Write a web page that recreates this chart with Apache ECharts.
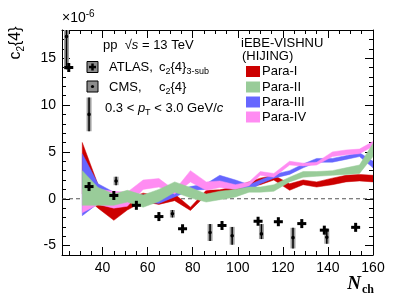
<!DOCTYPE html>
<html><head><meta charset="utf-8">
<script src="https://cdn.jsdelivr.net/npm/echarts@6/dist/echarts.min.js"></script>
<style>html,body{margin:0;padding:0;background:#fff}#c{width:415px;height:300px}</style>
</head><body><div id="c"></div>
<script>
// ---- axis ticks ----
const xMajor = [40, 60, 80, 100, 120, 140, 160];
const xMinor = [25, 30, 35, 45, 50, 55, 65, 70, 75, 85, 90, 95, 105, 110, 115, 125, 130, 135, 145, 150, 155];
const yMajor = [-5, 0, 5, 10, 15];
const yMinor = [-4, -3, -2, -1, 1, 2, 3, 4, 6, 7, 8, 9, 11, 12, 13, 14, 16, 17];

// ---- model bands (iEBE-VISHNU) ----
const modelN = [31, 38, 45, 51, 58, 65, 72, 79, 86, 92, 99, 105, 110, 116, 123, 129, 135, 142, 148, 154, 160];
const para1Lo = [0.5, -1.0, -2.3, -1.2, -0.3, -0.6, -0.2, -1.25, 0.4, 0.5, 0.7, 1.25, 1.5, 2.0, 0.9, 1.5, 1.25, 1.5, 1.8, 1.9, 1.8];
const para1Hi = [6.0, 1.5, -0.5, 0.0, 0.6, 0.3, 0.5, -0.9, 0.9, 0.95, 1.3, 1.8, 2.2, 2.5, 1.6, 2.0, 1.8, 2.2, 2.5, 2.6, 2.5];
const para2Lo = [-0.7, -0.7, -0.7, -0.35, -0.9, -0.3, 0.7, 0.1, -0.35, -0.1, 0.2, 0.7, 0.7, 0.8, 1.8, 2.3, 2.4, 2.5, 2.6, 2.7, 4.5];
const para2Hi = [3.0, 1.2, 0.5, 0.9, 0.4, 1.0, 1.8, 1.2, 0.5, 0.8, 1.0, 1.25, 1.25, 1.5, 2.3, 2.9, 2.9, 3.0, 3.3, 3.6, 5.9];
const para3Lo = [-1.8, -0.5, 0.0, -0.3, -0.3, -0.5, 0.2, 0.9, 1.0, 1.8, 1.3, 0.8, 1.6, 2.2, 2.6, 3.3, 3.9, 3.9, 4.2, 4.5, 3.3];
const para3Hi = [4.8, 1.6, 0.7, 0.5, 0.4, 0.4, 0.8, 1.3, 1.6, 2.5, 2.0, 1.5, 2.0, 2.6, 3.0, 3.7, 4.3, 4.3, 4.6, 4.9, 4.0];
const para4Lo = [-1.5, -0.6, -1.0, -0.8, 1.0, 1.25, 0.5, 1.8, 0.9, 1.2, 1.0, 1.4, 2.5, 2.3, 3.6, 3.5, 3.6, 4.5, 4.7, 4.8, 5.6];
const para4Hi = [1.0, 1.0, 0.8, 0.7, 2.0, 2.15, 0.9, 3.0, 1.8, 1.9, 1.5, 1.8, 2.9, 2.7, 4.0, 3.8, 3.9, 5.0, 5.2, 5.3, 6.1];

// ---- ATLAS c2{4} 3-sub ----
const atlasN = [25, 34, 45, 55, 65, 75.5, 93, 109, 118, 128.4, 138.4, 152.3];
const atlasY = [14.0, 1.3, 0.35, -0.7, -1.9, -3.2, -2.85, -2.4, -2.45, -2.65, -3.35, -3.05];

// ---- CMS c2{4} ----
const cmsN = [24, 34, 46, 71, 87.7, 97.5, 110.5, 124.5, 139.5];
const cmsY = [17.3, 9.0, 1.9, -1.6, -3.6, -3.95, -3.75, -4.15, -4.1];
const cmsLo = [13.8, 7.2, 1.45, -2.0, -4.5, -4.9, -4.3, -5.3, -4.8];
const cmsHi = [18.0, 10.8, 2.35, -1.2, -2.7, -3.0, -2.7, -3.1, -3.2];

const zeroLine = [[22, 0], [160, 0]];

const colors = {p1: '#cc0000', p2: '#99cc99', p3: '#6666ff', p4: '#ff8cf2'};
const F = '"Liberation Sans", Arial, Helvetica, sans-serif';

const chart = echarts.init(document.getElementById('c'), null, {renderer: 'canvas'});

function band(name, lo, hi, color, z) {
  return {
    type: 'custom', name, z, clip: true,
    xAxisIndex: 0, yAxisIndex: 0,
    data: [[modelN[0], lo[0]]],
    renderItem: function (params, api) {
      const pts = [];
      for (let i = 0; i < modelN.length; i++) pts.push(api.coord([modelN[i], hi[i]]));
      for (let i = modelN.length - 1; i >= 0; i--) pts.push(api.coord([modelN[i], lo[i]]));
      return {type: 'polygon', shape: {points: pts}, style: {fill: color, stroke: color, lineWidth: 0.5}};
    },
    silent: true
  };
}

function xAx(pos, vals, len, showLine, showLabel) {
  return {
    type: 'value', min: 22, max: 160, position: pos,
    axisLine: {show: showLine, onZero: false, lineStyle: {color: '#000', width: 1}},
    axisTick: {show: true, inside: true, length: len, customValues: vals, lineStyle: {color: '#000', width: 1}},
    axisLabel: showLabel ? {show: true, customValues: vals, color: '#000', fontSize: 14, fontFamily: F, margin: 6} : {show: false},
    splitLine: {show: false}
  };
}
function yAx(pos, vals, len, showLine, showLabel) {
  return {
    type: 'value', min: -6, max: 18, position: pos,
    axisLine: {show: showLine, onZero: false, lineStyle: {color: '#000', width: 1}},
    axisTick: {show: true, inside: true, length: len, customValues: vals, lineStyle: {color: '#000', width: 1}},
    axisLabel: showLabel ? {show: true, customValues: vals, color: '#000', fontSize: 14, fontFamily: F, margin: 6} : {show: false},
    splitLine: {show: false}
  };
}

function t(x, y, text, opts) {
  return {type: 'text', x, y, z: 100, style: Object.assign({
    text, fontFamily: F, fontSize: 13, fill: '#000', verticalAlign: 'middle', align: 'left',
    rich: {
      i: {fontFamily: F, fontSize: 13, fontStyle: 'italic'},
      sub: {fontFamily: F, fontSize: 9, verticalAlign: 'bottom', padding: [9, 0, 0, 0]},
      sup: {fontFamily: F, fontSize: 10, verticalAlign: 'top', padding: [0, 0, 8, 0]}
    }
  }, opts || {})};
}

const graphics = [
  // y-axis title
  {type: 'text', x: 16, y: 43, rotation: Math.PI / 2, z: 100, style: {
    text: 'c{s|2}{4}', fontFamily: F, fontSize: 16, fill: '#000', align: 'center', verticalAlign: 'middle',
    rich: {s: {fontFamily: F, fontSize: 10, verticalAlign: 'bottom', padding: [10, 0, 0, 0]}}
  }},
  // x10^-6
  t(62, 18, '×10{sup|-6}', {fontSize: 14}),
  // x-axis title
  {type: 'text', x: 374, y: 284, z: 100, style: {
    text: 'N{s|ch}', fontFamily: '"Liberation Serif", "Times New Roman", serif', fontSize: 19, fontWeight: 'bold', fontStyle: 'italic',
    fill: '#000', align: 'right', verticalAlign: 'middle',
    rich: {s: {fontFamily: '"Liberation Serif", serif', fontSize: 12, fontWeight: 'bold', fontStyle: 'normal', verticalAlign: 'bottom', padding: [12, 0, 0, 1]}}
  }},
  // left legend
  t(103, 45, 'pp  √{i|s} = 13 TeV'),
  {type: 'rect', z: 100, shape: {x: 87, y: 61.5, width: 11, height: 11}, style: {fill: '#8c8c8c', stroke: '#000', lineWidth: 1}},
  {type: 'rect', z: 101, shape: {x: 89, y: 65.8, width: 7, height: 2.5}, style: {fill: '#000'}},
  {type: 'rect', z: 101, shape: {x: 91.25, y: 63.5, width: 2.5, height: 7}, style: {fill: '#000'}},
  t(109, 67, 'ATLAS,'),
  t(159, 67, 'c{sub|2}{4}{sub|3-sub}'),
  {type: 'rect', z: 100, shape: {x: 87, y: 81, width: 11, height: 11}, style: {fill: '#8c8c8c', stroke: '#000', lineWidth: 1}},
  {type: 'circle', z: 101, shape: {cx: 92.5, cy: 86.5, r: 1.6}, style: {fill: '#000'}},
  t(109, 87, 'CMS,'),
  t(159, 87, 'c{sub|2}{4}'),
  t(105, 108, '0.3 < {i|p}{sub|T} < 3.0 GeV/{i|c}'),
  // right legend
  t(241, 43, 'iEBE-VISHNU', {fontSize: 13}),
  t(242, 56, '(HIJING)', {fontSize: 13}),
  {type: 'rect', z: 100, shape: {x: 246, y: 66, width: 14, height: 11}, style: {fill: colors.p1}},
  {type: 'rect', z: 100, shape: {x: 246, y: 81.5, width: 14, height: 11}, style: {fill: colors.p2}},
  {type: 'rect', z: 100, shape: {x: 246, y: 96.5, width: 14, height: 11}, style: {fill: colors.p3}},
  {type: 'rect', z: 100, shape: {x: 246, y: 111.5, width: 14, height: 11}, style: {fill: colors.p4}},
  t(262, 71.5, 'Para-I'),
  t(262, 87, 'Para-II'),
  t(262, 102, 'Para-III'),
  t(262, 117, 'Para-IV')
];

const option = {
  animation: false,
  backgroundColor: '#fff',
  grid: {left: 62, right: 42, top: 30, bottom: 45, containLabel: false},
  xAxis: [
    xAx('bottom', xMajor, 8, true, true),
    xAx('bottom', xMinor, 4, false, false),
    xAx('top', xMajor, 8, true, false),
    xAx('top', xMinor, 4, false, false)
  ],
  yAxis: [
    yAx('left', yMajor, 8, true, true),
    yAx('left', yMinor, 4, false, false),
    yAx('right', yMajor, 8, true, false),
    yAx('right', yMinor, 4, false, false)
  ],
  graphic: graphics,
  series: [
    {type: 'line', data: zeroLine, symbol: 'none', z: 1, silent: true,
     lineStyle: {color: '#555', width: 1, type: [4, 3]}},
    band('Para-I', para1Lo, para1Hi, colors.p1, 2),
    band('Para-III', para3Lo, para3Hi, colors.p3, 3),
    band('Para-IV', para4Lo, para4Hi, colors.p4, 4),
    band('Para-II', para2Lo, para2Hi, colors.p2, 5),
    {
      type: 'custom', name: 'CMS', z: 10, silent: true,
      data: cmsN.map((n, i) => [n, cmsY[i], cmsLo[i], cmsHi[i]]),
      renderItem: function (params, api) {
        const x = api.value(0);
        const c = api.coord([x, api.value(1)]);
        const lo = api.coord([x, api.value(2)]);
        const hi = api.coord([x, api.value(3)]);
        return {type: 'group', children: [
          {type: 'rect', shape: {x: c[0] - 2.5, y: hi[1], width: 5, height: lo[1] - hi[1]}, style: {fill: '#a0a0a0'}},
          {type: 'line', shape: {x1: c[0], y1: hi[1], x2: c[0], y2: lo[1]}, style: {stroke: '#000', lineWidth: 1.5}},
          {type: 'circle', shape: {cx: c[0], cy: c[1], r: 1.8}, style: {fill: '#000'}}
        ]};
      }
    },
    {
      type: 'custom', name: 'ATLAS', z: 11, silent: true,
      data: atlasN.map((n, i) => [n, atlasY[i]]),
      renderItem: function (params, api) {
        const c = api.coord([api.value(0), api.value(1)]);
        return {type: 'group', children: [
          {type: 'rect', shape: {x: c[0] - 4.5, y: c[1] - 1.5, width: 9, height: 3}, style: {fill: '#000'}},
          {type: 'rect', shape: {x: c[0] - 1.5, y: c[1] - 4.5, width: 3, height: 9}, style: {fill: '#000'}}
        ]};
      }
    }
  ]
};
chart.setOption(option);
</script>
</body></html>
